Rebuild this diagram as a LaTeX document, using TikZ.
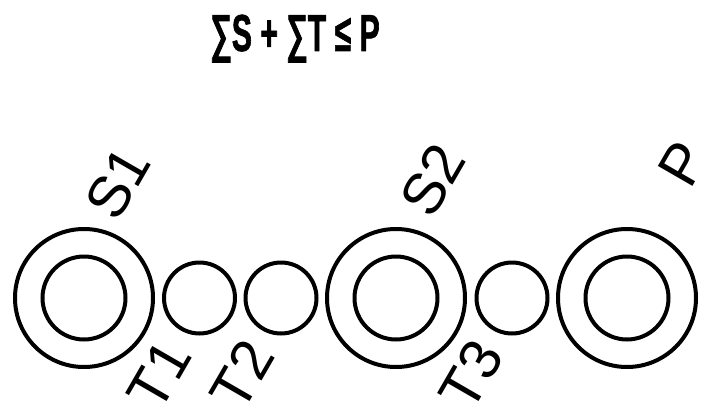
\documentclass[tikz,border=0pt]{standalone}
\usepackage{fontspec}
\setmainfont{Liberation Sans}
\newfontfamily\titlefont[FakeStretch=0.58, FakeBold=1.2]{Liberation Sans}
\usetikzlibrary{calc}

\begin{document}
\begin{tikzpicture}[x=1pt, y=-1pt]
\tikzset{
  ring/.style={draw, circle, line width=4pt, inner sep=0pt, minimum size=138pt},
  core/.style={draw, circle, line width=4pt, inner sep=0pt, minimum size=83pt},
  tube/.style={draw, circle, line width=4pt, inner sep=0pt, minimum size=71pt},
  lab/.style={font=\fontsize{58}{58}\selectfont, rotate=60, inner sep=0pt}}
\useasboundingbox (0,0) rectangle (701,404);

% ---------------- title ----------------
\node[anchor=base, inner sep=0pt, font=\titlefont\bfseries\fontsize{52}{52}\selectfont]
  (sum) at (295,51) {∑S + ∑T ≤ P};

% ---------------- row of circles ----------------
\node[ring] (S1) at (84,298) {};
\node[core] (S1c) at (S1) {};
\node[tube] (T1) at (199.5,298) {};
\node[tube] (T2) at (281,298) {};
\node[ring] (S2) at (396,298) {};
\node[core] (S2c) at (S2) {};
\node[tube] (T3) at (512,298) {};
\node[ring] (P) at (627,298) {};
\node[core] (Pc) at (P) {};

% ---------------- labels ----------------
\node[lab] (S1l) at (118,183) {S1};
\node[lab] (S2l) at (433,180) {S2};
\node[lab] (Pl)  at (683,164) {P};
\node[lab] (T1l) at (159,375) {T1};
\node[lab] (T2l) at (242,375) {T2};
\node[lab] (T3l) at (471,375) {T3};
\end{tikzpicture}
\end{document}
